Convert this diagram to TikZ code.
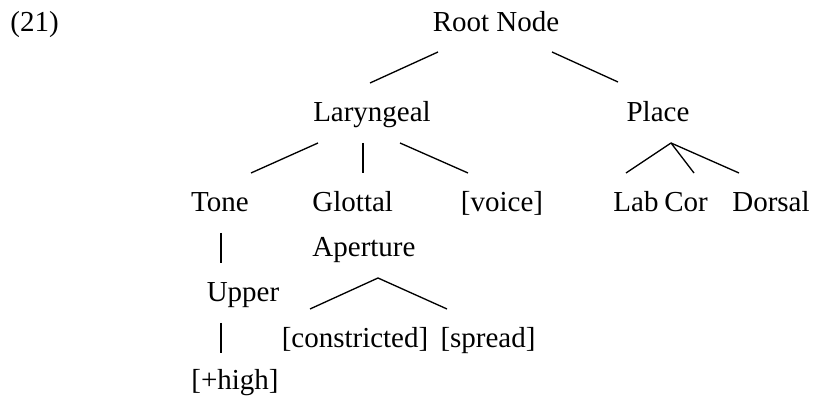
\documentclass[tikz,border=0pt]{standalone}
\usepackage{fontspec}
\setmainfont{Liberation Serif}
\begin{document}
\begin{tikzpicture}[x=0.414pt,y=-0.414pt,font=\fontsize{12pt}{14pt}\selectfont,
	every node/.style={inner sep=0pt},
	branch/.style={line width=0.55pt}]
			\useasboundingbox (0,0) rectangle (815,401);
			\node[anchor=base west] (ex) at (10,32) {(21)};
			\node[anchor=base] (root) at (496,32) {Root Node};
			\node[anchor=base] (lar) at (372,122) {Laryngeal};
			\node[anchor=base] (place) at (658,122) {Place};
			\node[anchor=base] (tone) at (220,212) {Tone};
			\node[anchor=base west] (glottal) at (312,212) {Glottal};
			\node[anchor=base west] (aperture) at (312,257) {Aperture};
			\node[anchor=base] (voice) at (502,212) {[voice]};
			\node[anchor=base] (lab) at (636,212) {Lab};
			\node[anchor=base] (cor) at (686,212) {Cor};
			\node[anchor=base] (dorsal) at (771,212) {Dorsal};
			\node[anchor=base] (upper) at (243,302) {Upper};
			\node[anchor=base] (high) at (235,390) {[+high]};
			\node[anchor=base] (constr) at (355,348) {[constricted]};
			\node[anchor=base] (spread) at (488,348) {[spread]};
			
			\draw[branch] ([shift={(-58,20)}]root.base) -- ([shift={(-2,-39)}]lar.base);
			\draw[branch] ([shift={(56,20)}]root.base) -- ([shift={(-40,-40)}]place.base);
			\draw[branch] ([shift={(-54,21)}]lar.base) -- ([shift={(31,-39)}]tone.base);
			\draw[branch] ([shift={(-9,21)}]lar.base) -- ([shift={(51,-39)}]glottal.base west);
			\draw[branch] ([shift={(28,21)}]lar.base) -- ([shift={(-34,-39)}]voice.base);
			\draw[branch] ([shift={(13,21)}]place.base) -- ([shift={(-10,-39)}]lab.base);
			\draw[branch] ([shift={(13,21)}]place.base) -- ([shift={(8,-39)}]cor.base);
			\draw[branch] ([shift={(13,21)}]place.base) -- ([shift={(-32,-39)}]dorsal.base);
			\draw[branch] ([shift={(1,21)}]tone.base) -- ([shift={(-22,-39)}]upper.base);
			\draw[branch] ([shift={(-22,21)}]upper.base) -- ([shift={(-14,-37)}]high.base);
			\draw[branch] ([shift={(66,21)}]aperture.base west) -- ([shift={(-45,-39)}]constr.base);
			\draw[branch] ([shift={(66,21)}]aperture.base west) -- ([shift={(-41,-39)}]spread.base);
			
		\end{tikzpicture}
\end{document}
